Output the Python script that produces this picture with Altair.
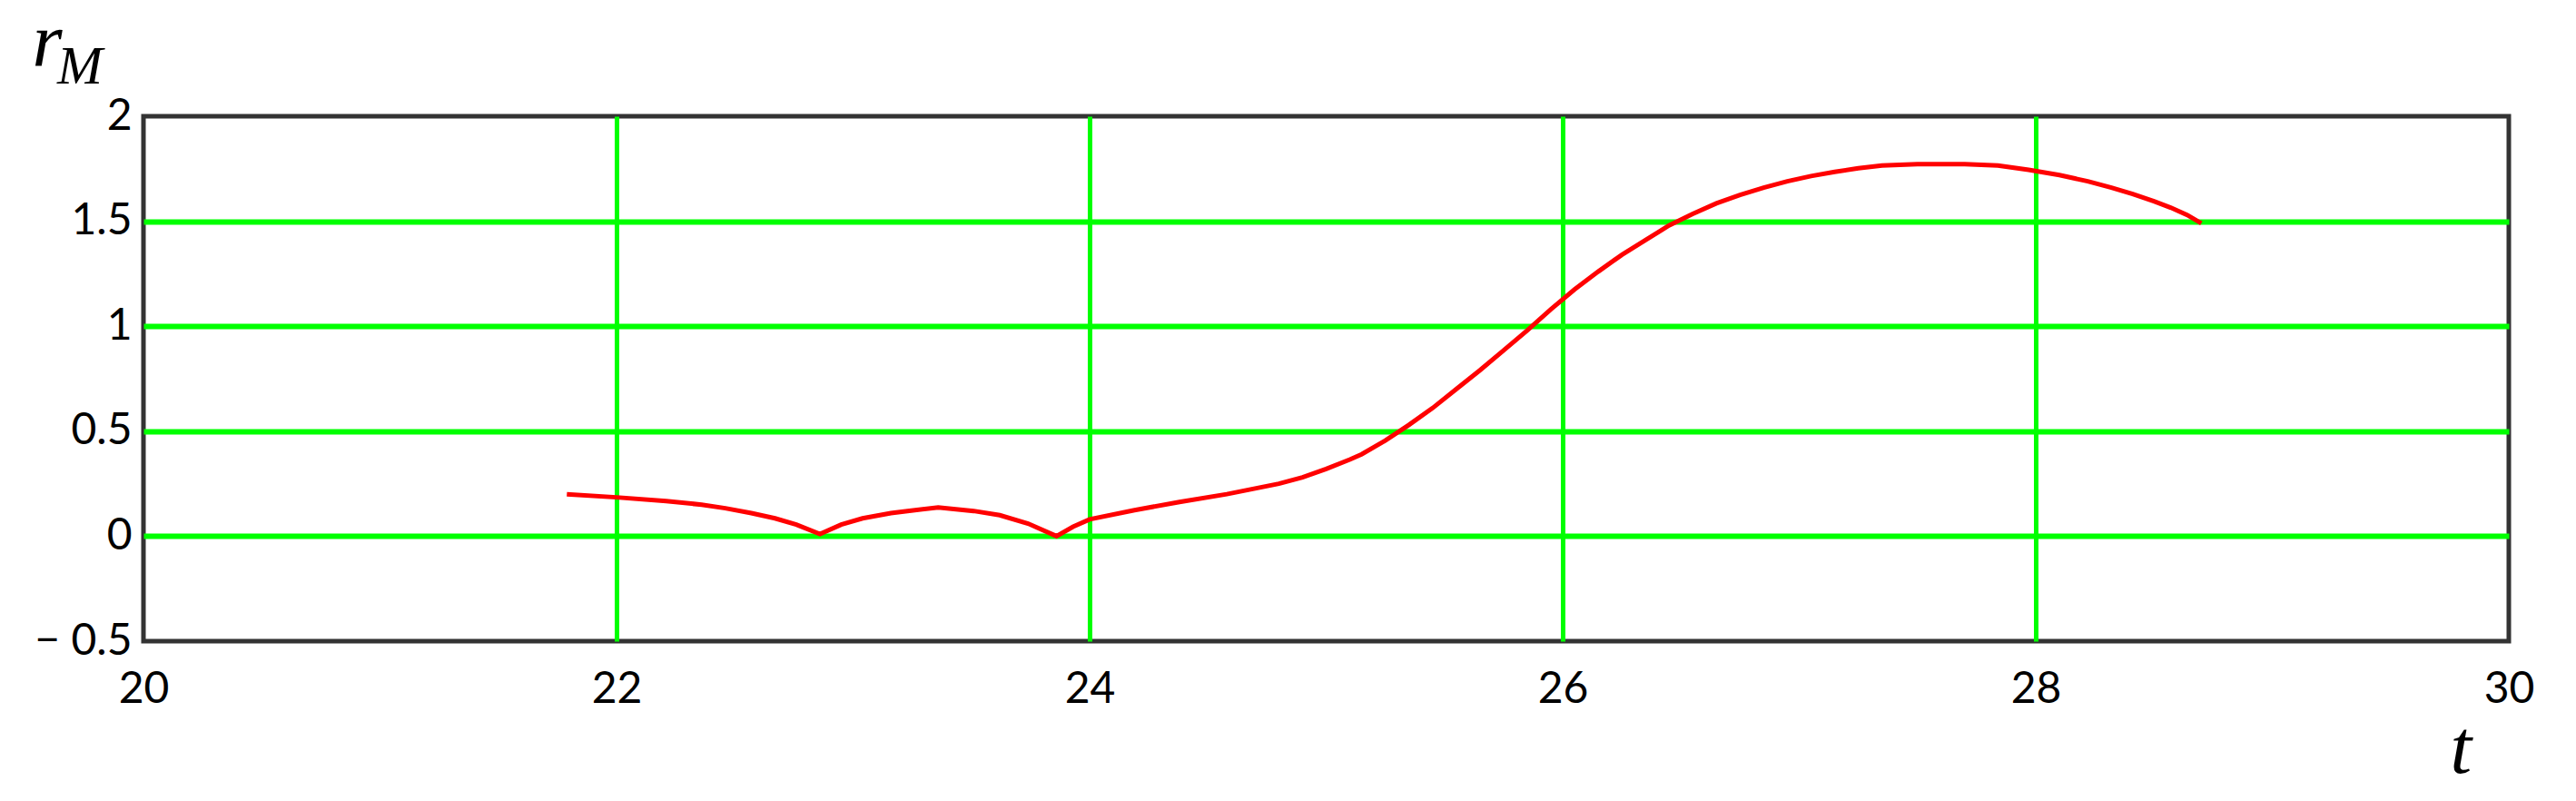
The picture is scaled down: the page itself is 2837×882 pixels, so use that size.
import altair as alt
import pandas as pd

# curve
t_vals = [21.79, 22.00, 22.21, 22.36, 22.46, 22.57, 22.67, 22.76, 22.86, 22.95,
          23.04, 23.16, 23.23, 23.36, 23.51, 23.62, 23.74, 23.86, 23.93, 24.00,
          24.19, 24.38, 24.58, 24.80, 24.90, 25.00, 25.10, 25.15, 25.25, 25.35,
          25.45, 25.55, 25.65, 25.75, 25.85, 25.95, 26.05, 26.15, 26.25, 26.35,
          26.45, 26.55, 26.65, 26.75, 26.85, 26.95, 27.05, 27.15, 27.25, 27.35,
          27.50, 27.70, 27.84, 27.97, 28.10, 28.22, 28.32, 28.41, 28.50, 28.57,
          28.64, 28.70]
r_vals = [0.200, 0.185, 0.167, 0.150, 0.133, 0.110, 0.085, 0.055, 0.010, 0.055,
          0.085, 0.110, 0.120, 0.137, 0.120, 0.100, 0.060, 0.000, 0.045, 0.080,
          0.124, 0.163, 0.200, 0.250, 0.280, 0.320, 0.365, 0.390, 0.455, 0.530,
          0.610, 0.700, 0.790, 0.885, 0.980, 1.080, 1.175, 1.260, 1.340, 1.410,
          1.480, 1.535, 1.585, 1.625, 1.660, 1.690, 1.715, 1.735, 1.752, 1.765,
          1.772, 1.772, 1.765, 1.745, 1.720, 1.690, 1.660, 1.630, 1.595, 1.565,
          1.530, 1.490]

x_ticks = [20, 22, 24, 26, 28, 30]
y_ticks = [-0.5, 0, 0.5, 1, 1.5, 2]

df = pd.DataFrame({"t": t_vals, "r": r_vals})

LABEL_FONT = "Lato"
GREEN = "#00ff00"

x_axis = alt.Axis(
    values=x_ticks, title="t", titleFont="Liberation Serif", titleFontStyle="italic",
    titleFontWeight="normal", titleFontSize=85, titleColor="black",
    titleAlign="left", titleBaseline="alphabetic", titleX=2540, titleY=144,
    labelFont=LABEL_FONT, labelFontSize=48, labelColor="black",
    labelPadding=29, labelAlign="center", labelFlush=False, labelOverlap=False,
    labelExpr="'\u2002' + datum.label",
    ticks=False, tickSize=0, domain=False,
    grid=True, gridWidth=5, gridOpacity=1,
    gridColor={"condition": {"test": "datum.value == 20 || datum.value == 30", "value": "transparent"}, "value": GREEN},
)
y_axis = alt.Axis(
    values=y_ticks, title="r", titleFont="Liberation Serif", titleFontStyle="italic",
    titleFontWeight="normal", titleFontSize=85, titleColor="black", titleAngle=0,
    titleAlign="left", titleBaseline="alphabetic", titleX=-123, titleY=-56,
    labelFont=LABEL_FONT, labelFontSize=48, labelColor="black",
    labelPadding=13, labelFlush=False, labelOverlap=False,
    labelExpr="datum.value < 0 ? '\u2212 ' + format(-datum.value, '.1~f') : format(datum.value, '.1~f')",
    ticks=False, tickSize=0, domain=False,
    grid=True, gridWidth=6, gridOpacity=1,
    gridColor={"condition": {"test": "datum.value == -0.5 || datum.value == 2", "value": "transparent"}, "value": GREEN},
)

line = alt.Chart(df).mark_line(color="#ff0000", strokeWidth=5).encode(
    x=alt.X("t:Q", scale=alt.Scale(domain=[20, 30], nice=False, zero=False), axis=x_axis),
    y=alt.Y("r:Q", scale=alt.Scale(domain=[-0.5, 2], nice=False, zero=False), axis=y_axis),
)

sub = alt.Chart(pd.DataFrame({"s": ["M"]})).mark_text(
    font="Liberation Serif", fontStyle="italic", fontSize=60, color="black",
    align="left", baseline="alphabetic",
).encode(text="s:N", x=alt.value(-95), y=alt.value(-36))

chart = alt.layer(line, sub).properties(
    width=2605, height=578,
    autosize=alt.AutoSizeParams(type="none"),
    padding={"left": 150, "top": 120, "right": 66, "bottom": 168},
    background="white",
).configure_view(stroke="#333333", strokeWidth=5)

chart.save("out.html", embed_options={"renderer": "svg", "actions": False})
